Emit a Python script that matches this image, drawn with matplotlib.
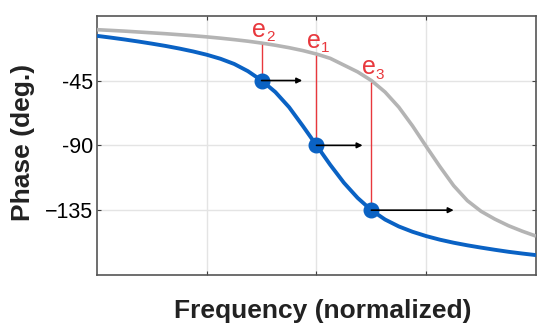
import matplotlib
matplotlib.use("Agg")
import matplotlib.pyplot as plt

# frequency axis in decades (normalized), 0..4
log_freq = [0.0, 0.125, 0.25, 0.375, 0.5, 0.625, 0.75, 0.875,
            1.0, 1.125, 1.25, 1.375, 1.5, 1.625, 1.75, 1.875,
            2.0, 2.125, 2.25, 2.375, 2.5, 2.625, 2.75, 2.875,
            3.0, 3.125, 3.25, 3.375, 3.5, 3.625, 3.75, 3.875, 4.0]

phase_blue = [-14, -15.2, -16.5, -17.9, -19.4, -21.0, -22.8, -24.8,
              -27.1, -29.9, -33.5, -38.5, -45, -53, -63.5, -76.5,
              -90, -103.5, -116, -126.5, -135, -141.5, -146.3, -150,
              -153, -155.5, -157.6, -159.4, -161, -162.5, -163.9, -165.1, -166.2]

phase_gray = [-9.7, -10.2, -10.7, -11.3, -11.9, -12.5, -13.2, -13.9,
              -14.7, -15.6, -16.6, -17.7, -19.0, -20.5, -22.2, -24.2,
              -26.6, -29.6, -34.3, -39, -45, -53, -63.5, -76.5,
              -90.8, -104.8, -118, -128.4, -135.8, -141.2, -145.8, -149.6, -153]

# operating points e1, e2, e3
point_labels = ["2", "1", "3"]
point_idx = [12, 16, 20]          # indices into log_freq
arrow_end = [1.87, 2.42, 3.25]    # arrow tips (decades)

yticks = [-45, -90, -135]
ytick_labels = ["-45", "-90", "\u2212135"]

BLUE = "#0A62C4"
GRAY = "#B4B4B4"
RED = "#E8383D"

plt.rcParams["font.family"] = ["Liberation Sans", "DejaVu Sans"]

fig = plt.figure(figsize=(5.5, 3.32), dpi=100)
ax = fig.add_axes([0.1764, 0.1717, 0.7981, 0.781])

ax.plot(log_freq, phase_gray, color=GRAY, lw=2.6, solid_capstyle="butt", zorder=3)
ax.plot(log_freq, phase_blue, color=BLUE, lw=2.8, solid_capstyle="butt", zorder=4)

for lab, i, xe in zip(point_labels, point_idx, arrow_end):
    x = log_freq[i]
    yb = phase_blue[i]
    yg = phase_gray[i]
    ax.plot([x, x], [yb, yg - 1.5], color=RED, lw=1.0, zorder=5)
    ax.plot(x, yb, "o", color=BLUE, ms=10.5, zorder=6)
    ax.annotate("", xy=(xe, yb), xytext=(x, yb),
                arrowprops=dict(arrowstyle="-|>", color="black", lw=1.2,
                                mutation_scale=8, shrinkA=0, shrinkB=0),
                zorder=7)
    ax.annotate("e", xy=(x, yg), xytext=(-7, 1), textcoords="offset points",
                color=RED, fontsize=18, ha="left", va="bottom")
    ax.annotate(lab, xy=(x, yg), xytext=(3, -1), textcoords="offset points",
                color=RED, fontsize=11, ha="left", va="bottom")

ax.set_xlim(0, 4)
ax.set_ylim(-180, 0)
ax.set_xticks([1, 2, 3])
ax.set_xticklabels([])
ax.set_yticks(yticks)
ax.set_yticklabels(ytick_labels, fontsize=15.5)
ax.grid(True, color="#E4E4E4", lw=1.0)
ax.set_axisbelow(True)
ax.tick_params(direction="in", length=3, width=0.8, color="#404040",
               top=True, right=True, pad=3)
for s in ax.spines.values():
    s.set_color("#555555")
    s.set_linewidth(1.2)

ax.set_xlabel("Frequency (normalized)", fontsize=19, fontweight="bold",
              color="#222222", labelpad=14)
ax.xaxis.label.set_x(0.515)
ax.set_ylabel("Phase (deg.)", fontsize=19, fontweight="bold",
              color="#222222")
ax.yaxis.set_label_coords(-0.141, 0.51)

fig.savefig("out.png", dpi=100)
